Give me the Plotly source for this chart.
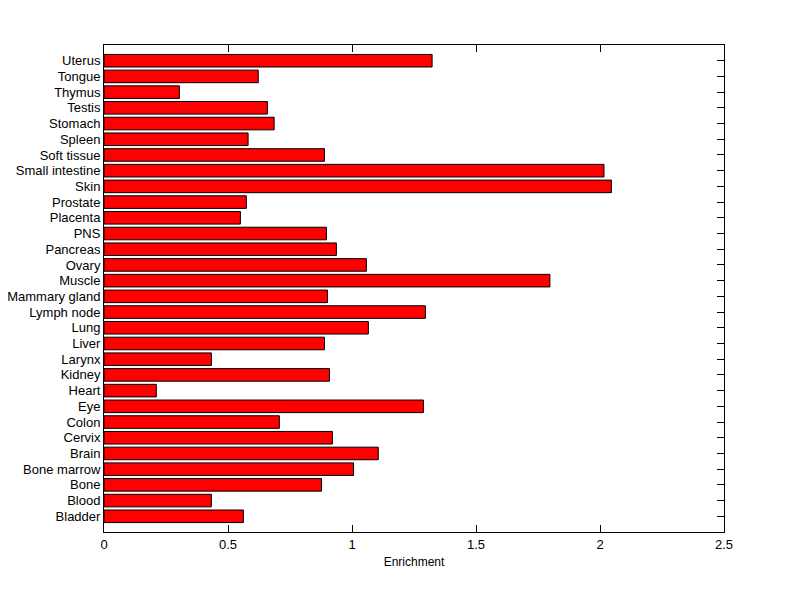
import plotly.graph_objects as go

tissues = ["Bladder", "Blood", "Bone", "Bone marrow", "Brain", "Cervix", "Colon", "Eye",
           "Heart", "Kidney", "Larynx", "Liver", "Lung", "Lymph node", "Mammary gland",
           "Muscle", "Ovary", "Pancreas", "PNS", "Placenta", "Prostate", "Skin",
           "Small intestine", "Soft tissue", "Spleen", "Stomach", "Testis", "Thymus",
           "Tongue", "Uterus"]
enrichment = [0.562, 0.433, 0.877, 1.006, 1.106, 0.921, 0.707, 1.288,
              0.211, 0.909, 0.433, 0.889, 1.066, 1.296, 0.901,
              1.798, 1.058, 0.937, 0.897, 0.550, 0.574, 2.046,
              2.016, 0.889, 0.581, 0.686, 0.659, 0.304,
              0.622, 1.323]
x_ticks = [0, 0.5, 1, 1.5, 2, 2.5]
x_tick_text = ["0", "0.5", "1", "1.5", "2", "2.5"]

idx = list(range(len(tissues)))

fig = go.Figure(go.Bar(
    x=enrichment, y=idx, orientation="h", width=0.8,
    marker=dict(color="#FF0000", line=dict(color="black", width=1)),
))

fig.update_layout(
    width=792, height=591,
    margin=dict(l=96, r=76, t=37, b=67),
    paper_bgcolor="white", plot_bgcolor="white",
    font=dict(family="Liberation Sans, Arial, sans-serif", size=13, color="black"),
    showlegend=False,
    xaxis=dict(range=[0, 2.5], tickvals=x_ticks, ticktext=x_tick_text,
               ticks="inside", ticklen=7, tickcolor="black", tickwidth=1,
               showline=True, linecolor="black", linewidth=1, mirror="ticks",
               showgrid=False, zeroline=False, layer="below traces", automargin=False,
               title=dict(text="Enrichment", standoff=7, font=dict(size=12))),
    yaxis=dict(range=[-1, 30], tickvals=idx, ticktext=tissues,
               ticks="inside", ticklen=7, tickcolor="black", tickwidth=1,
               showline=True, linecolor="black", linewidth=1, mirror="ticks",
               showgrid=False, zeroline=False, layer="below traces", automargin=False),
)

fig.write_html("out.html")
